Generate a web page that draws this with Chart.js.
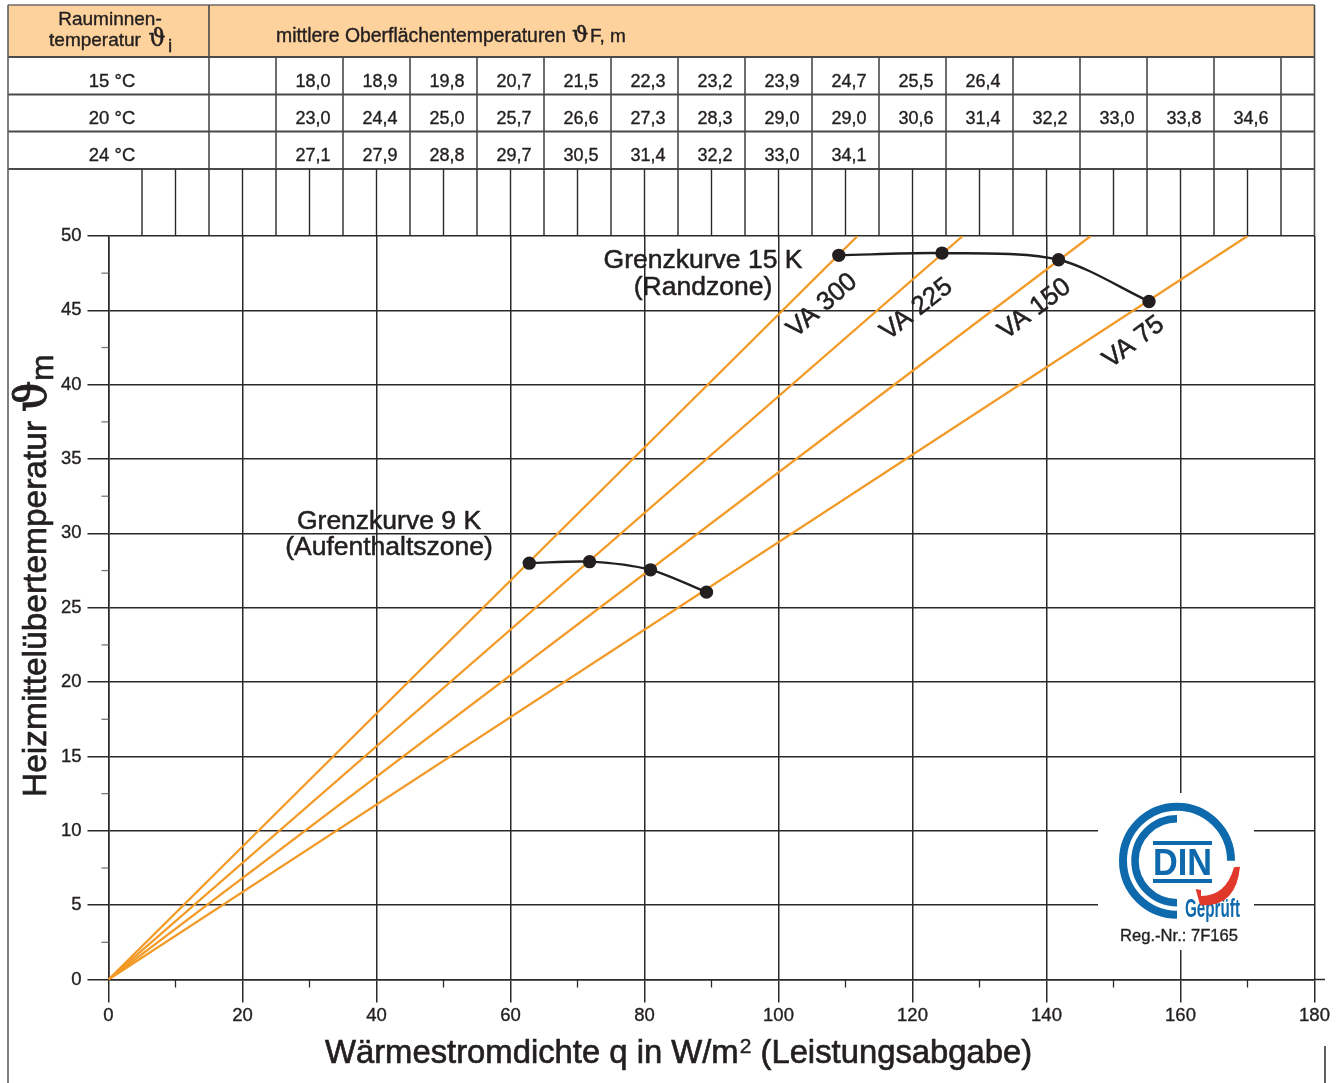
<!DOCTYPE html>
<html>
<head>
<meta charset="utf-8">
<title>Heizmittelübertemperatur</title>
<script src="https://cdn.jsdelivr.net/npm/chart.js@4"></script>
<style>
    html, body { margin: 0; padding: 0; background: #fff; }
    canvas { display: block; }
</style>
</head>
<body>
<canvas id="myChart" width="1343" height="1083"></canvas>
<script>
// VA lines run from the origin to the top of the chart
const va300 = [{ x: 0, y: 0 }, { x: 111.8, y: 50 }];
const va225 = [{ x: 0, y: 0 }, { x: 127.5, y: 50 }];
const va150 = [{ x: 0, y: 0 }, { x: 146.6, y: 50 }];
const va75 = [{ x: 0, y: 0 }, { x: 170, y: 50 }];

const grenz15 = [
    { x: 109, y: 48.7 },
    { x: 124.4, y: 48.85 },
    { x: 141.8, y: 48.4 },
    { x: 155.3, y: 45.6 },
];
const grenz9 = [
    { x: 62.8, y: 28.0 },
    { x: 71.8, y: 28.1 },
    { x: 80.9, y: 27.55 },
    { x: 89.25, y: 26.05 },
];

const xMinorTicks = [10, 30, 50, 70, 90, 110, 130, 150, 170];
const yMinorTicks = [2.5, 7.5, 12.5, 17.5, 22.5, 27.5, 32.5, 37.5, 42.5, 47.5];

// table above the chart
const roomTemps = ["15 °C", "20 °C", "24 °C"];
const surface15 = ["18,0", "18,9", "19,8", "20,7", "21,5", "22,3", "23,2", "23,9", "24,7", "25,5", "26,4"];
const surface20 = ["23,0", "24,4", "25,0", "25,7", "26,6", "27,3", "28,3", "29,0", "29,0", "30,6", "31,4", "32,2", "33,0", "33,8", "34,6"];
const surface24 = ["27,1", "27,9", "28,8", "29,7", "30,5", "31,4", "32,2", "33,0", "34,1"];
const tableColumns = [25, 35, 45, 55, 65, 75, 85, 95, 105, 115, 125, 135, 145, 155, 165, 175];
const tableTicks = [5, 10, 15, 20, 25, 30, 35, 40, 45, 50, 55, 60, 65, 70, 75, 80, 85, 90, 95, 100, 105, 110, 115, 120, 125, 130, 135, 140, 145, 150, 155, 160, 165, 170, 175];

const FONT = '"Liberation Sans", Arial, sans-serif';
const SERIF = '"DejaVu Serif", "Liberation Serif", serif';
const INK = "#231f20";
const GRID = "#2a2829";
const TABLE_LINE = "#4a4a4a";
const ORANGE = "#f39a26";

function text(c, str, x, y, font, align, angle) {
    c.save();
    c.font = font;
    c.fillStyle = INK;
    c.strokeStyle = INK;
    c.lineWidth = parseFloat(font) * 0.02; // the original type is a little heavier
    c.textAlign = align || "center";
    c.textBaseline = "alphabetic";
    c.translate(x, y);
    if (angle) c.rotate((angle * Math.PI) / 180);
    c.fillText(str, 0, 0);
    c.strokeText(str, 0, 0);
    c.restore();
}

function line(c, x1, y1, x2, y2, color, width) {
    c.strokeStyle = color;
    c.lineWidth = width;
    c.beginPath();
    c.moveTo(x1, y1);
    c.lineTo(x2, y2);
    c.stroke();
}

function drawTable(c, xs) {
    const left = 8;
    const right = xs.getPixelForValue(180);
    const split = xs.getPixelForValue(15);
    const rows = [57, 94.5, 131.5, 169];
    const top = 5;
    const px = (v) => xs.getPixelForValue(v);

    c.fillStyle = "#fdd29c";
    c.fillRect(left, top, right - left, rows[0] - top);
    line(c, left, top, right, top, "#6b6b6b", 1.5);
    rows.forEach((y) => line(c, left, y, right, y, TABLE_LINE, 1.8));
    line(c, left, top, left, 1083, "#5f5f5f", 1.6);
    line(c, right, top, right, 236, TABLE_LINE, 1.6);
    line(c, split, top, split, rows[3], TABLE_LINE, 1.6);
    tableColumns.forEach((v) => line(c, px(v), rows[0], px(v), rows[3], TABLE_LINE, 1.6));
    tableTicks.forEach((v) => line(c, px(v), rows[3], px(v), 236, GRID, 1.4));

    text(c, "Rauminnen-", 110, 25, "19px " + FONT);
    text(c, "temperatur", 95, 46, "19px " + FONT);
    text(c, "ϑ", 157, 46, "24px " + SERIF);
    text(c, "i", 170, 52, "19px " + FONT);
    text(c, "mittlere Oberflächentemperaturen", 276, 42, "19.4px " + FONT, "left");
    text(c, "ϑ", 572, 42, "23px " + SERIF, "left");
    text(c, "F, m", 590, 42, "19px " + FONT, "left");

    const ys = [87, 124, 161];
    [surface15, surface20, surface24].forEach((vals, r) => {
        text(c, roomTemps[r], 112, ys[r], "18.5px " + FONT);
        vals.forEach((val, i) => {
            text(c, val, px(tableColumns[i]) + 37, ys[r], "18px " + FONT);
        });
    });
}

function drawXTitle(c) {
    const font = "32.8px " + FONT;
    const supFont = "21px " + FONT;
    const a = "Wärmestromdichte q in W/m";
    const b = "2";
    const d = " (Leistungsabgabe)";
    c.font = font;
    const wa = c.measureText(a).width;
    c.font = supFont;
    const wb = c.measureText(b).width;
    text(c, a, 325, 1063, font, "left");
    text(c, b, 325 + wa + 1, 1053, supFont, "left");
    text(c, d, 325 + wa + wb + 1, 1063, font, "left");
}

function drawLogo(c) {
    const cx = 1177, cy = 860.7, blue = "#0f69ad";
    c.fillStyle = "#fff";
    c.fillRect(1098, 793, 156, 157);

    c.strokeStyle = blue;
    c.lineWidth = 8;
    c.beginPath();
    c.arc(cx, cy, 54, 0, Math.PI / 2, true);
    c.stroke();
    c.lineWidth = 7.5;
    c.beginPath();
    c.arc(cx, cy, 42, -Math.PI / 2, Math.PI / 2, true);
    c.stroke();

    c.fillStyle = blue;
    c.fillRect(1153, 841, 59, 4);
    c.fillRect(1153, 879, 59, 4);
    c.font = 'bold 36px ' + FONT;
    c.textAlign = "left";
    c.textBaseline = "alphabetic";
    c.fillText("DIN", 1153, 875, 59);
    c.font = 'bold 25px "Liberation Sans Narrow", ' + FONT;
    c.fillText("Geprüft", 1185, 917, 55);

    c.fillStyle = "#e0392b";
    c.beginPath();
    c.moveTo(1240, 866.7);
    c.quadraticCurveTo(1236, 908, 1200, 905);
    c.lineTo(1195.7, 889);
    c.lineTo(1201, 890);
    c.lineTo(1201, 896);
    c.quadraticCurveTo(1226, 896, 1234, 867.3);
    c.closePath();
    c.fill();

    text(c, "Reg.-Nr.: 7F165", 1179, 941, "16.6px " + FONT);
}

const decorations = {
    id: "decorations",
    afterDraw(chart) {
        const c = chart.ctx;
        const xs = chart.scales.x;
        const ys = chart.scales.y;
        c.save();
        drawTable(c, xs);

        // short ticks between the labelled ones
        xMinorTicks.forEach((v) => {
            const p = xs.getPixelForValue(v);
            line(c, p, ys.bottom, p, ys.bottom + 8, GRID, 1.3);
        });
        yMinorTicks.forEach((v) => {
            const p = ys.getPixelForValue(v);
            line(c, xs.left - 7, p, xs.left, p, "#777", 1.3);
        });
        line(c, xs.right, ys.bottom, 1325, ys.bottom, GRID, 1.5);
        line(c, 1325, 1046, 1325, 1083, GRID, 1.5);

        // curve and line labels
        text(c, "Grenzkurve 15 K", 703, 268, "26.5px " + FONT);
        text(c, "(Randzone)", 703, 295, "26.5px " + FONT);
        text(c, "Grenzkurve 9 K", 389, 529, "26.5px " + FONT);
        text(c, "(Aufenthaltszone)", 389, 555, "26.5px " + FONT);
        text(c, "VA 300", 827, 311, "26px " + FONT, "center", -41);
        text(c, "VA 225", 921, 315, "26px " + FONT, "center", -38);
        text(c, "VA 150", 1039, 315, "26px " + FONT, "center", -37);
        text(c, "VA 75", 1138, 348, "26px " + FONT, "center", -37);

        // axis titles
        drawXTitle(c);
        text(c, "Heizmittelübertemperatur", 46, 797, "33.5px " + FONT, "left", -90);
        text(c, "ϑ", 46, 412, "44px " + SERIF, "left", -90);
        text(c, "m", 53, 381, "32px " + FONT, "left", -90);

        drawLogo(c);
        c.restore();
    },
};

function orangeLine(label, data) {
    return {
        label: label,
        data: data,
        borderColor: ORANGE,
        borderWidth: 2.3,
        pointRadius: 0,
        showLine: true,
    };
}

function limitCurve(label, data) {
    return {
        label: label,
        data: data,
        borderColor: INK,
        backgroundColor: INK,
        borderWidth: 2.4,
        pointRadius: 5.5,
        tension: 0.3,
        showLine: true,
    };
}

new Chart(document.getElementById("myChart"), {
    type: "scatter",
    data: {
        datasets: [
            limitCurve("Grenzkurve 15 K", grenz15),
            limitCurve("Grenzkurve 9 K", grenz9),
            orangeLine("VA 300", va300),
            orangeLine("VA 225", va225),
            orangeLine("VA 150", va150),
            orangeLine("VA 75", va75),
        ],
    },
    options: {
        responsive: false,
        animation: false,
        layout: { padding: { left: 0, top: 236, right: 28.5, bottom: 0 } },
        plugins: { legend: { display: false }, tooltip: { enabled: false } },
        scales: {
            x: {
                type: "linear",
                min: 0,
                max: 180,
                afterFit: (s) => { s.height = 103.5; },
                border: { color: GRID, width: 1.5 },
                grid: { color: GRID, lineWidth: 1.5, tickLength: 23 },
                ticks: {
                    stepSize: 20,
                    padding: 2,
                    color: INK,
                    maxRotation: 0,
                    textStrokeColor: INK,
                    textStrokeWidth: 0.35,
                    font: { family: "Liberation Sans", size: 18.5 },
                },
            },
            y: {
                min: 0,
                max: 50,
                afterFit: (s) => { s.width = 108.5; },
                border: { color: GRID, width: 1.5 },
                grid: { color: GRID, lineWidth: 1.5, tickLength: 21 },
                ticks: {
                    stepSize: 5,
                    padding: 6,
                    color: INK,
                    textStrokeColor: INK,
                    textStrokeWidth: 0.35,
                    font: { family: "Liberation Sans", size: 18.5 },
                },
            },
        },
    },
    plugins: [decorations],
});
</script>
</body>
</html>
